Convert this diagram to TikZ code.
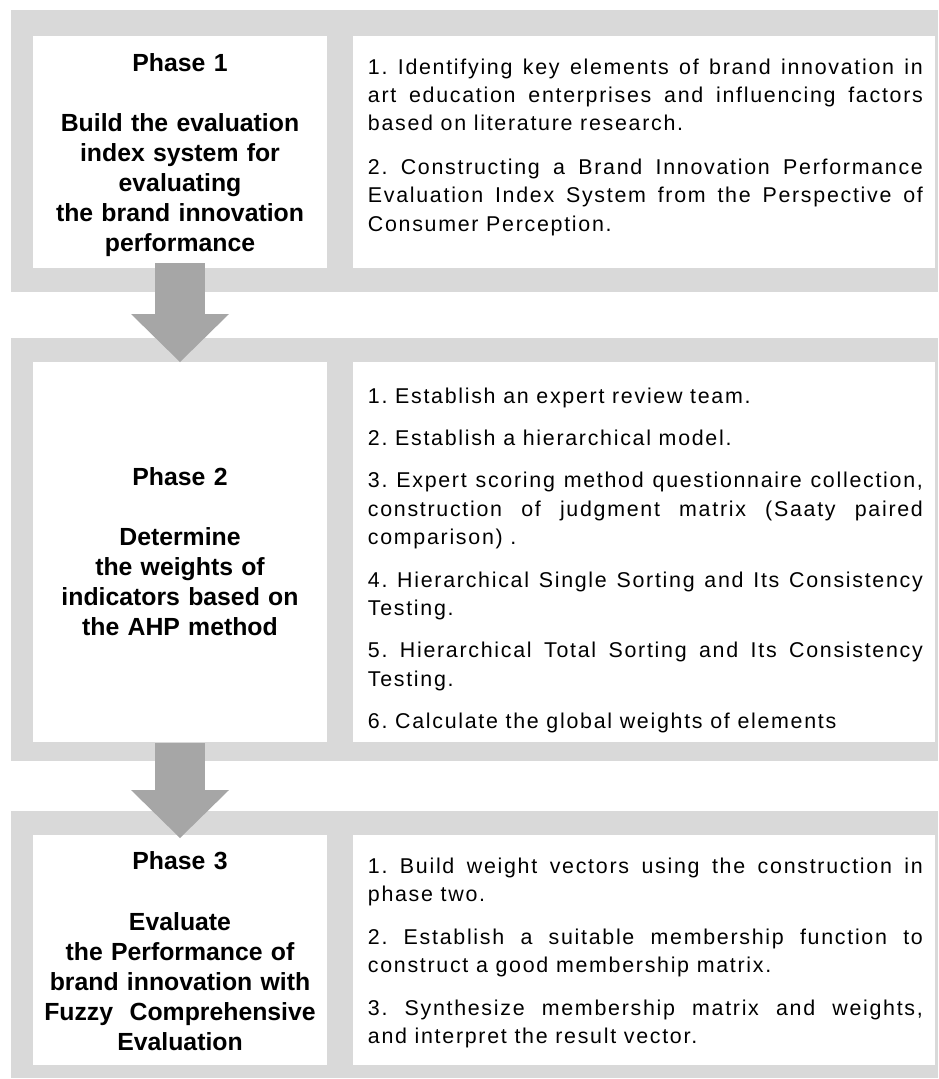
\documentclass[tikz,border=0pt]{standalone}
\usepackage{fontspec}
\setmainfont{Liberation Sans}
\newfontfamily\stepfont{Liberation Sans}[LetterSpace=8]
\usetikzlibrary{arrows.meta}

\definecolor{bandgray}{HTML}{D9D9D9}
\definecolor{arrowgray}{HTML}{A6A6A6}

% loose justified lines for the step lists
\newcommand\stepsetup{\frenchspacing\tolerance=10000 \hyphenpenalty=10000 \hbadness=10000 }

\tikzset{
  band/.style={rectangle, fill=bandgray, inner sep=0pt, outer sep=0pt},
  whitebox/.style={rectangle, fill=white, inner sep=0pt, outer sep=0pt},
  phasetext/.style={anchor=base, text width=290pt, align=center, inner sep=0pt,
    font=\fontsize{24.8}{30}\selectfont\bfseries},
  stepstext/.style={anchor=base west, text width=555pt, align=justify, inner sep=0pt,
    font=\stepfont\fontsize{21.4}{28.4}\selectfont},
  flowarrow/.style={draw=arrowgray, line width=50pt,
    -{Triangle[width=98pt 0 0, length=48pt 0 0, line width=0pt 0 0, fill=arrowgray]}}
}

\begin{document}
\begin{tikzpicture}[x=1pt, y=-1pt]
    \useasboundingbox (0, 0) rectangle (938, 1079);

    % Bands
    \node[band, minimum width=927pt, minimum height=282pt] (band1) at (474.5, 151) {};
    \node[band, minimum width=927pt, minimum height=423pt] (band2) at (474.5, 549.5) {};
    \node[band, minimum width=927pt, minimum height=267pt] (band3) at (474.5, 944.5) {};

    % Boxes
    \node[whitebox, minimum width=294pt, minimum height=232pt] (p1box) at (180, 152) {};
    \node[whitebox, minimum width=582pt, minimum height=232pt] (s1box) at (644, 152) {};
    \node[whitebox, minimum width=294pt, minimum height=380pt] (p2box) at (180, 552) {};
    \node[whitebox, minimum width=582pt, minimum height=380pt] (s2box) at (644, 552) {};
    \node[whitebox, minimum width=294pt, minimum height=230pt] (p3box) at (180, 950) {};
    \node[whitebox, minimum width=582pt, minimum height=230pt] (s3box) at (644, 950) {};

    % Phase texts
    \node[phasetext] (p1text) at (180, 71.7) {Phase 1\\[30pt]Build the evaluation\\index system for\\evaluating\\the brand innovation\\performance};
    \node[phasetext] (p2text) at (180, 485) {Phase 2\\[30pt]Determine\\the weights of\\indicators based on\\the AHP method};
    \node[phasetext] (p3text) at (180, 869) {Phase 3\\[31pt]Evaluate\\the Performance of\\brand innovation with\\Fuzzy~ Comprehensive\\Evaluation};

    % Step texts
    \node[stepstext] (s1text) at (367.7, 74) {\stepsetup 1. Identifying key elements of brand innovation in\linebreak art education enterprises and influencing factors\linebreak based on literature research.\\[15pt]
      2. Constructing a Brand Innovation Performance\linebreak Evaluation Index System from the Perspective of\linebreak Consumer Perception.};
    \node[stepstext] (s2text) at (367.7, 403.3) {\stepsetup 1. Establish an expert review team.\\[13.9pt]
      2. Establish a hierarchical model.\\[13.9pt]
      3. Expert scoring method questionnaire collection,\linebreak construction of judgment matrix (Saaty paired\linebreak comparison) .\\[13.9pt]
      4. Hierarchical Single Sorting and Its Consistency\linebreak Testing.\\[13.9pt]
      5. Hierarchical Total Sorting and Its Consistency\linebreak Testing.\\[13.9pt]
      6. Calculate the global weights of elements};
    \node[stepstext] (s3text) at (367.7, 873.3) {\stepsetup 1. Build weight vectors using the construction in\linebreak phase two.\\[14.3pt]
      2. Establish a suitable membership function to\linebreak construct a good membership matrix.\\[14.3pt]
      3. Synthesize membership matrix and weights,\linebreak and interpret the result vector.};

    % Arrows
    \draw[flowarrow] ([yshift=5pt]p1box.south) -- (p2box.north);
    \draw[flowarrow] ([yshift=-1pt]p2box.south) -- ([yshift=-3pt]p3box.north);
\end{tikzpicture}
\end{document}
